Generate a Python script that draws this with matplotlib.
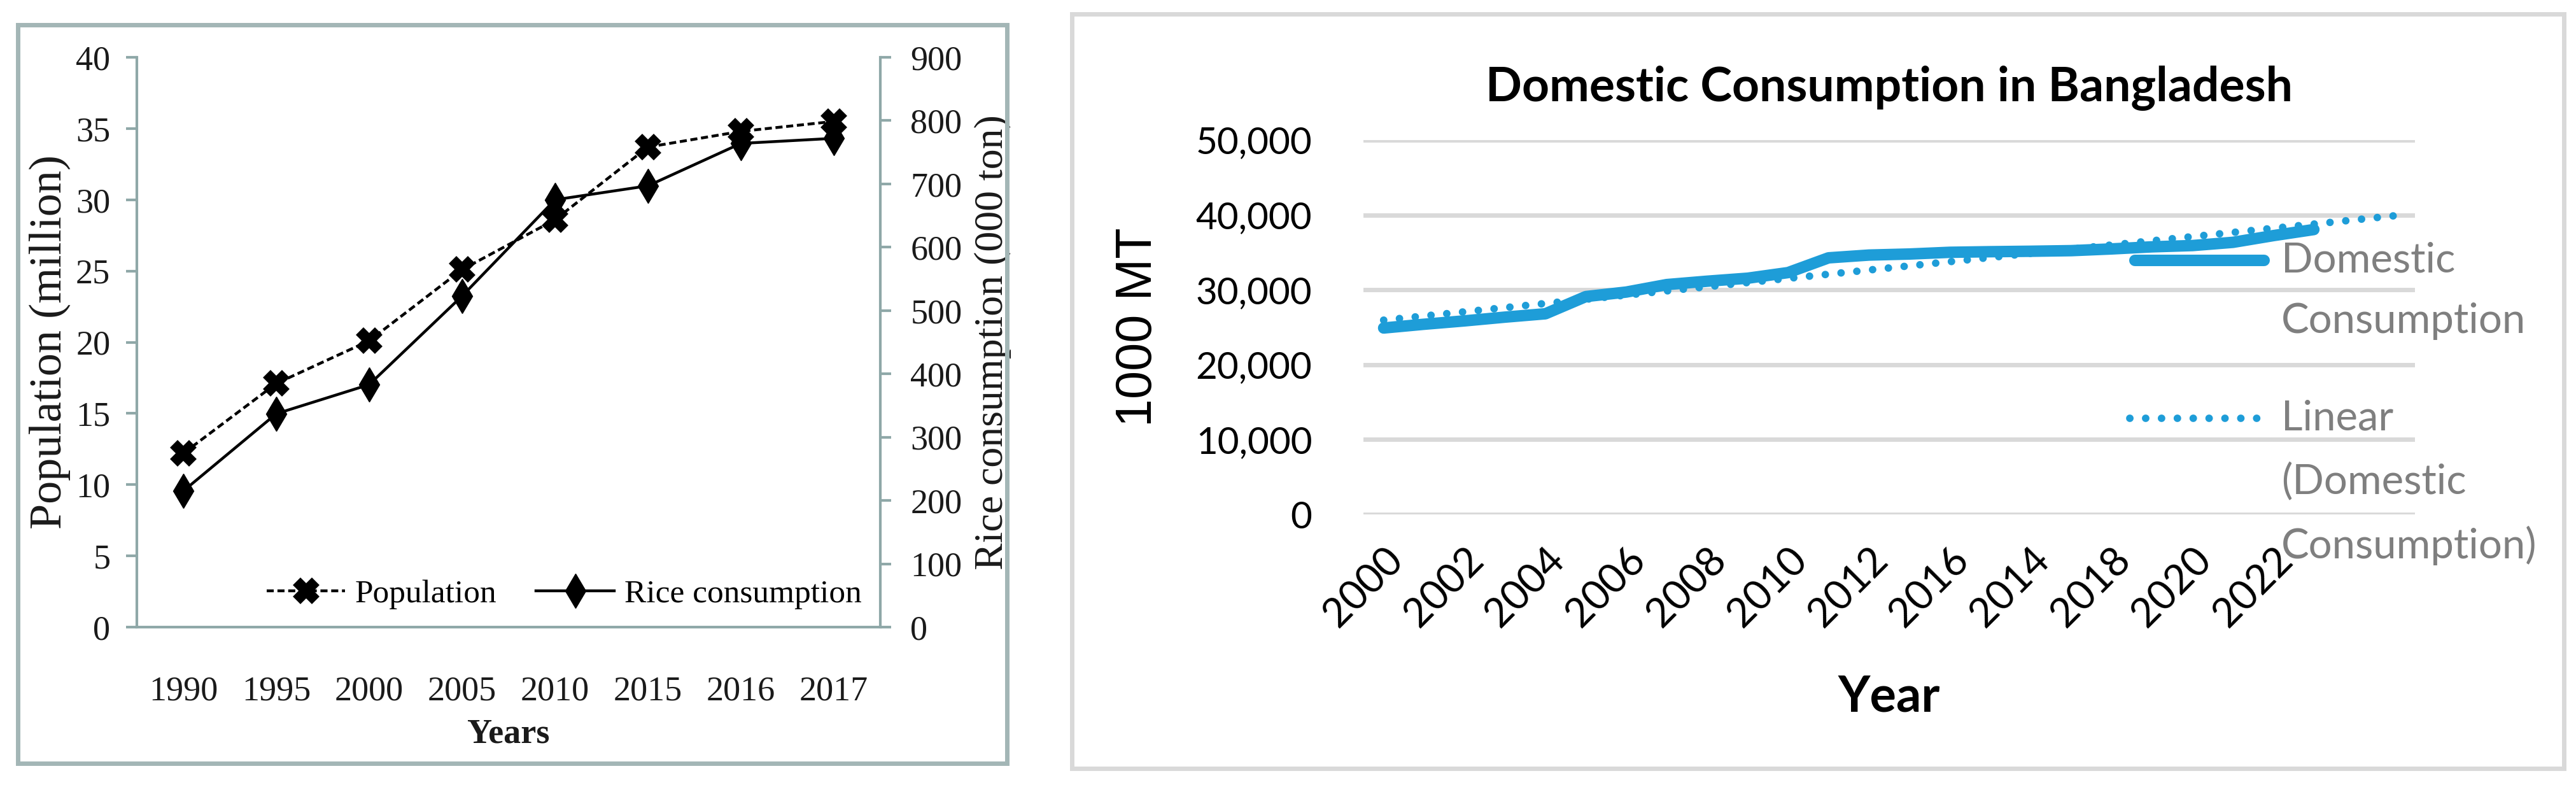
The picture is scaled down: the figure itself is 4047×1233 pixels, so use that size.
import numpy as np
import matplotlib.pyplot as plt
from matplotlib.patches import Rectangle
from matplotlib.lines import Line2D

# Left chart data
years_left = ['1990', '1995', '2000', '2005', '2010', '2015', '2016', '2017']
population = [12.2, 17.1, 20.1, 25.1, 28.6, 33.7, 34.8, 35.5]
rice_consumption = [215, 337, 383, 523, 675, 697, 764, 772]

# Right chart data (one value per category, labels on every other one)
domestic_consumption = [24900, 25400, 25850, 26350, 26800, 29100, 29700, 30700,
                        31150, 31550, 32300, 34270, 34640, 34780, 35010, 35090,
                        35150, 35230, 35460, 35740, 35910, 36340, 37240, 38050]
year_labels = ['2000', '2002', '2004', '2006', '2008', '2010',
               '2012', '2016', '2014', '2018', '2020', '2022']

W, H = 4047, 1233
fig = plt.figure(figsize=(W / 100, H / 100), dpi=100)

def rect(x0, y0, x1, y1):
    # pixel box (y measured from top) -> figure fraction
    return [x0 / W, 1 - y1 / H, (x1 - x0) / W, (y1 - y0) / H]

serif = 'Liberation Serif'
sans = 'Lato'
spine_col = '#8fa8a8'
txt = '#1a1a1a'

# ---------------- left panel ----------------
fig.add_artist(Rectangle((28 / W, 1 - 1199 / H), (1582 - 28) / W, (1199 - 39) / H,
                         transform=fig.transFigure, fill=False,
                         edgecolor='#a3b6b6', lw=5))

ax1 = fig.add_axes(rect(215, 90, 1383, 985))
ax2 = ax1.twinx()
x = np.arange(len(years_left))
ax1.plot(x, population, color='black', lw=3.2, ls=(0, (2.5, 1.3)),
         marker='X', ms=26, mew=3, mec='black', label='Population')
ax2.plot(x, rice_consumption, color='black', lw=3.2,
         marker='d', ms=28, label='Rice consumption')
ax1.set_xlim(-0.5, len(years_left) - 0.5)
ax1.set_ylim(0, 40)
ax2.set_ylim(0, 900)
ax1.set_yticks(range(0, 41, 5))
ax2.set_yticks(range(0, 901, 100))
ax1.set_xticks(x)
ax1.set_xticklabels(years_left)

for a in (ax1, ax2):
    for s in a.spines.values():
        s.set_color(spine_col)
        s.set_linewidth(3)
    a.spines['top'].set_visible(False)
ax1.spines['right'].set_visible(False)
ax2.spines['left'].set_visible(False)
ax2.spines['bottom'].set_visible(False)

ax1.tick_params(axis='y', length=12, width=3, color=spine_col, pad=18,
                labelsize=39, labelcolor=txt)
ax2.tick_params(axis='y', length=12, width=3, color=spine_col, pad=22,
                labelsize=39, labelcolor=txt)
ax1.tick_params(axis='x', length=0, pad=55, labelsize=39, labelcolor=txt)
for lab in ax1.get_xticklabels() + ax1.get_yticklabels() + ax2.get_yticklabels():
    lab.set_family(serif)

ax1.set_ylabel('Population (million)', family=serif, fontsize=52, color=txt, labelpad=6)
ax2.set_ylabel('Rice consumption (000 ton)', family=serif, fontsize=46, color=txt, labelpad=14)
ax1.set_xlabel('Years', family=serif, fontsize=39, fontweight='bold', color=txt, labelpad=12)

h1, l1 = ax1.get_legend_handles_labels()
h2, l2 = ax2.get_legend_handles_labels()
ax1.legend(h1 + h2, l1 + l2, loc='lower left', bbox_to_anchor=(0.135, -0.02),
           ncol=2, frameon=False, prop={'family': serif, 'size': 37},
           handlelength=2.4, columnspacing=1.2, handletextpad=0.3)

# ---------------- right panel ----------------
blue = '#1e9dd8'
fig.add_artist(Rectangle((1684 / W, 1 - 1207 / H), (4028 - 1684) / W, (1207 - 22) / H,
                         transform=fig.transFigure, fill=False,
                         edgecolor='#d9d9d9', lw=5))

ax3 = fig.add_axes(rect(2142, 220, 3794, 808))
idx = np.arange(len(domestic_consumption))
n_cat = len(domestic_consumption) + 2
ax3.plot(idx, domestic_consumption, color=blue, lw=13,
         solid_capstyle='round', solid_joinstyle='round', zorder=3)
coef = np.polyfit(idx, domestic_consumption, 1)
trend_x = np.arange(n_cat)
ax3.plot(trend_x, np.polyval(coef, trend_x), color=blue, lw=8.5,
         ls=(0, (0.01, 2.1)), dash_capstyle='round', zorder=2)

ax3.set_xlim(-0.5, n_cat - 0.5)
ax3.set_ylim(0, 50000)
ax3.set_yticks(range(0, 50001, 10000))
ax3.set_yticklabels([f'{v:,}' for v in range(0, 50001, 10000)])
ax3.set_xticks(range(0, len(domestic_consumption), 2))
ax3.set_xticklabels(year_labels, rotation=45, ha='right', rotation_mode='anchor')
ax3.grid(axis='y', color='#d9d9d9', lw=5)
ax3.set_axisbelow(True)
for s in ax3.spines.values():
    s.set_visible(False)
ax3.tick_params(axis='y', length=0, pad=58, labelsize=42)
ax3.tick_params(axis='x', length=0, pad=30, labelsize=46)
for lab in ax3.get_xticklabels() + ax3.get_yticklabels():
    lab.set_family(sans)

ax3.set_title('Domestic Consumption in Bangladesh', family=sans, fontweight='bold',
              fontsize=54, pad=44)
ax3.set_ylabel('1000 MT', family='Liberation Sans', fontsize=57, labelpad=38)
ax3.set_xlabel('Year', family=sans, fontweight='bold', fontsize=56, labelpad=46)

# legend at the right of the plot area
fig.add_artist(Line2D([3354 / W, 3557 / W], [1 - 409 / H] * 2, transform=fig.transFigure,
                      color=blue, lw=13, solid_capstyle='round'))
fig.add_artist(Line2D([3346 / W, 3556 / W], [1 - 657 / H] * 2, transform=fig.transFigure,
                      color=blue, lw=8.5, ls=(0, (0.01, 2.1)), dash_capstyle='round'))
fig.text(3584 / W, 1 - 379 / H, 'Domestic\nConsumption', family=sans, fontsize=47,
         color='#7f7f7f', va='top', ha='left', linespacing=1.77)
fig.text(3584 / W, 1 - 628 / H, 'Linear\n(Domestic\nConsumption)', family=sans,
         fontsize=47, color='#7f7f7f', va='top', ha='left', linespacing=1.77)

fig.savefig('out.png', dpi=100)
